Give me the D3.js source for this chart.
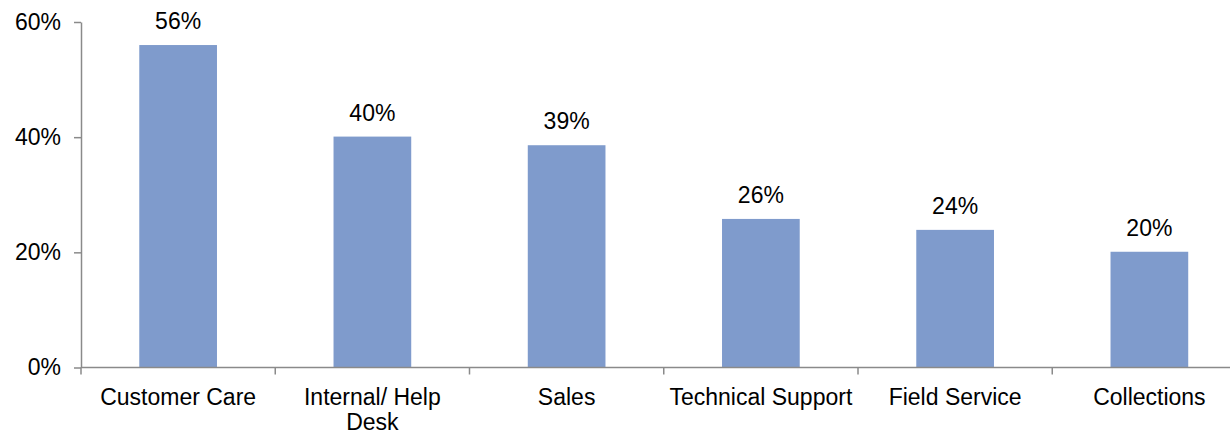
<!DOCTYPE html>
<html>
<head>
<meta charset="utf-8">
<script src="https://cdn.jsdelivr.net/npm/d3@7"></script>
<style>
  html, body { margin: 0; padding: 0; background: #ffffff; }
  svg { display: block; }
  text { font-family: Arial, "Liberation Sans", sans-serif; fill: #000; }
</style>
</head>
<body>
<svg id="chart" width="1230" height="435"></svg>
<script>
// Share of respondents by contact-center function
const categories = ["Customer Care", "Internal/ Help Desk", "Sales", "Technical Support", "Field Service", "Collections"];
const shares = [0.56, 0.401, 0.386, 0.258, 0.239, 0.201];
const yTicks = [0, 0.2, 0.4, 0.6];

const svg = d3.select("#chart");
const plotLeft = 81, plotRight = 1246.5, plotTop = 22, plotBottom = 367.5;
const barColor = "#7f9bcc";
const axisColor = "#8a8a8a";
const fontSize = 23;

const x = d3.scaleBand()
  .domain(categories)
  .range([plotLeft, plotRight])
  .paddingInner(0.6)
  .paddingOuter(0.3);

const y = d3.scaleLinear()
  .domain([0, 0.6])
  .range([plotBottom, plotTop]);

const pct = d3.format(".0%");

// Bars
svg.append("g")
  .selectAll("rect")
  .data(categories)
  .join("rect")
  .attr("x", d => x(d))
  .attr("width", x.bandwidth())
  .attr("y", (d, i) => y(shares[i]))
  .attr("height", (d, i) => y(0) - y(shares[i]))
  .attr("fill", barColor);

// Value labels above bars
svg.append("g")
  .selectAll("text")
  .data(categories)
  .join("text")
  .attr("x", d => x(d) + x.bandwidth() / 2)
  .attr("y", (d, i) => y(shares[i]) - 16)
  .attr("text-anchor", "middle")
  .style("font-size", fontSize + "px")
  .text((d, i) => pct(shares[i]));

// Y axis
const yAxis = svg.append("g")
  .attr("transform", `translate(${plotLeft},0)`)
  .call(d3.axisLeft(y)
    .tickValues(yTicks)
    .tickFormat(pct)
    .tickSize(7)
    .tickSizeOuter(0)
    .tickPadding(13));
yAxis.select(".domain").attr("stroke", axisColor).attr("stroke-width", 1.5);
yAxis.selectAll(".tick line").attr("stroke", axisColor).attr("stroke-width", 1.5);
yAxis.selectAll(".tick text")
  .style("font-size", fontSize + "px")
  .style("font-family", "Arial, 'Liberation Sans', sans-serif")
  .attr("fill", "#000");

// X axis baseline with tick marks between categories
const step = x.step();
const gap = (step - x.bandwidth()) / 2;
const boundaries = categories.map(c => x(c) - gap).concat([x(categories[categories.length - 1]) + x.bandwidth() + gap]);

const xAxis = svg.append("g");
xAxis.append("line")
  .attr("x1", plotLeft).attr("x2", plotRight)
  .attr("y1", y(0)).attr("y2", y(0))
  .attr("stroke", axisColor).attr("stroke-width", 1.5);
xAxis.selectAll("line.sep")
  .data(boundaries)
  .join("line")
  .attr("class", "sep")
  .attr("x1", d => d).attr("x2", d => d)
  .attr("y1", y(0)).attr("y2", y(0) + 7)
  .attr("stroke", axisColor).attr("stroke-width", 1.5);

// Category labels, wrapped to the band width
const labelLines = {
  "Customer Care": ["Customer Care"],
  "Internal/ Help Desk": ["Internal/ Help", "Desk"],
  "Sales": ["Sales"],
  "Technical Support": ["Technical Support"],
  "Field Service": ["Field Service"],
  "Collections": ["Collections"]
};
const cat = xAxis.selectAll("text.cat")
  .data(categories)
  .join("text")
  .attr("class", "cat")
  .attr("text-anchor", "middle")
  .attr("x", d => x(d) + x.bandwidth() / 2)
  .attr("y", y(0) + 37.5)
  .style("font-size", fontSize + "px");
cat.selectAll("tspan")
  .data(d => labelLines[d].map(t => ({ t, cx: x(d) + x.bandwidth() / 2 })))
  .join("tspan")
  .attr("x", d => d.cx)
  .attr("dy", (d, i) => i === 0 ? 0 : 24.5)
  .text(d => d.t);
</script>
</body>
</html>
